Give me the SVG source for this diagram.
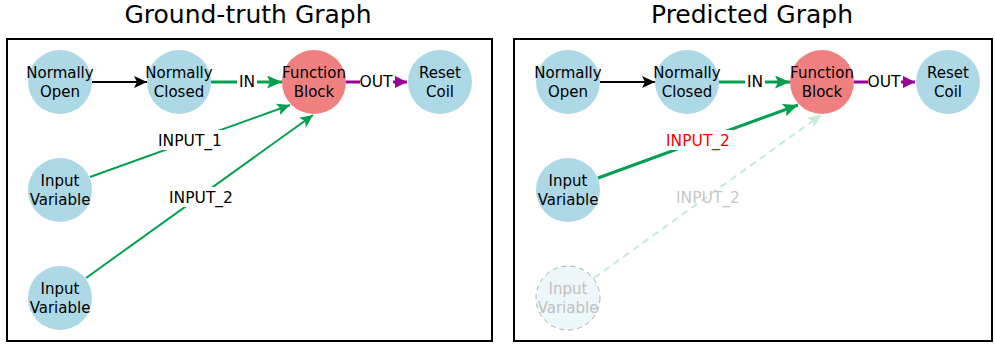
<svg xmlns="http://www.w3.org/2000/svg" width="995" height="345" viewBox="0 0 995 345">
<defs>
<style>
text{font-family:"DejaVu Sans","Liberation Sans",sans-serif;text-anchor:middle}
.title{font-size:25px;fill:#000}
.nt{font-size:15px;fill:#000}
.lbl{font-size:15.5px;fill:#000}
.node{fill:#ADD8E6}
.fb{fill:#F08080}
.panel{fill:#fff;stroke:#000;stroke-width:2}
.bg{fill:#fff}
.blk{stroke:#000;stroke-width:2;fill:none}
.grn{stroke:#00A050;stroke-width:2;fill:none}
.grn3{stroke:#00A050;stroke-width:3;fill:none}
.pur{stroke:#990099;stroke-width:3;fill:none}
.faint{stroke:#C6EBD6;stroke-width:2;fill:none;stroke-dasharray:7,5}
.ghost{fill:#EDF6F9;stroke:#B0B0B0;stroke-width:1;stroke-dasharray:5,4}
.gt{font-size:15px;fill:#C0C0C0}
</style>
<marker id="mb" markerUnits="userSpaceOnUse" markerWidth="13" markerHeight="12" refX="13" refY="6" orient="auto"><path d="M0,0 L13,6 L0,12 L3,6 z" fill="#000"/></marker>
<marker id="mg" markerUnits="userSpaceOnUse" markerWidth="13" markerHeight="12" refX="13" refY="6" orient="auto"><path d="M0,0 L13,6 L0,12 L3,6 z" fill="#00A050"/></marker>
<marker id="mg3" markerUnits="userSpaceOnUse" markerWidth="15" markerHeight="13" refX="15" refY="6.5" orient="auto"><path d="M0,0 L15,6.5 L0,13 L3,6.5 z" fill="#00A050"/></marker>
<marker id="mp" markerUnits="userSpaceOnUse" markerWidth="12" markerHeight="12" refX="12" refY="6" orient="auto"><path d="M0,0 L12,6 L0,12 z" fill="#990099"/></marker>
<marker id="mf" markerUnits="userSpaceOnUse" markerWidth="13" markerHeight="12" refX="13" refY="6" orient="auto"><path d="M0,0 L13,6 L0,12 L3,6 z" fill="#C6EBD6"/></marker>
</defs>

<text class="title" x="248" y="23">Ground-truth Graph</text>
<text class="title" x="752" y="23">Predicted Graph</text>
<rect class="panel" x="7" y="39" width="485" height="302"/>
<rect class="panel" x="514" y="39" width="478" height="302"/>

<g id="edges">
  <!-- left -->
  <line class="blk" x1="92" y1="82" x2="147" y2="82" marker-end="url(#mb)"/>
  <line class="grn3" x1="211" y1="82" x2="282" y2="82" marker-end="url(#mg3)"/>
  <line class="pur" x1="346" y1="82" x2="407" y2="82" marker-end="url(#mp)"/>
  <line class="grn" x1="90" y1="177" x2="290" y2="105" marker-end="url(#mg)"/>
  <line class="grn" x1="86" y1="278" x2="313" y2="115" marker-end="url(#mg)"/>
  <rect class="bg" x="237" y="72" width="20" height="19"/>
  <text class="lbl" x="247" y="87">IN</text>
  <rect class="bg" x="360" y="72" width="33" height="19"/>
  <text class="lbl" x="376" y="87">OUT</text>
  <rect class="bg" x="155" y="130" width="70" height="20"/>
  <text class="lbl" x="190" y="146">INPUT_1</text>
  <rect class="bg" x="166" y="187" width="70" height="20"/>
  <text class="lbl" x="201" y="203">INPUT_2</text>
  <!-- right -->
  <line class="blk" x1="600" y1="82" x2="655" y2="82" marker-end="url(#mb)"/>
  <line class="grn3" x1="719" y1="82" x2="790" y2="82" marker-end="url(#mg3)"/>
  <line class="pur" x1="854" y1="82" x2="915" y2="82" marker-end="url(#mp)"/>
  <line class="grn3" x1="598" y1="178" x2="798" y2="105" marker-end="url(#mg3)"/>
  <line class="faint" x1="594" y1="278" x2="821" y2="115" marker-end="url(#mf)"/>
  <rect class="bg" x="745" y="72" width="20" height="19"/>
  <text class="lbl" x="755" y="87">IN</text>
  <rect class="bg" x="868" y="72" width="33" height="19"/>
  <text class="lbl" x="884" y="87">OUT</text>
  <rect class="bg" x="663" y="130" width="70" height="20"/>
  <text class="lbl" x="698" y="146" style="fill:#FF0000">INPUT_2</text>
  <text class="lbl" x="708" y="203" style="fill:#C8C8C8">INPUT_2</text>
</g>

<g id="gt-normally-open"><circle class="node" cx="60" cy="82" r="32"/><text class="nt" x="60" y="78">Normally</text><text class="nt" x="60" y="97">Open</text></g>
<g id="gt-normally-closed"><circle class="node" cx="179" cy="82" r="32"/><text class="nt" x="179" y="78">Normally</text><text class="nt" x="179" y="97">Closed</text></g>
<g id="gt-function-block"><circle class="fb" cx="314" cy="82" r="32"/><text class="nt" x="314" y="78">Function</text><text class="nt" x="314" y="97">Block</text></g>
<g id="gt-reset-coil"><circle class="node" cx="440" cy="82" r="32"/><text class="nt" x="440" y="78">Reset</text><text class="nt" x="440" y="97">Coil</text></g>
<g id="gt-input-1"><circle class="node" cx="60" cy="190" r="32"/><text class="nt" x="60" y="186">Input</text><text class="nt" x="60" y="205">Variable</text></g>
<g id="gt-input-2"><circle class="node" cx="60" cy="298" r="32"/><text class="nt" x="60" y="294">Input</text><text class="nt" x="60" y="313">Variable</text></g>

<g id="pr-normally-open"><circle class="node" cx="568" cy="82" r="32"/><text class="nt" x="568" y="78">Normally</text><text class="nt" x="568" y="97">Open</text></g>
<g id="pr-normally-closed"><circle class="node" cx="687" cy="82" r="32"/><text class="nt" x="687" y="78">Normally</text><text class="nt" x="687" y="97">Closed</text></g>
<g id="pr-function-block"><circle class="fb" cx="822" cy="82" r="32"/><text class="nt" x="822" y="78">Function</text><text class="nt" x="822" y="97">Block</text></g>
<g id="pr-reset-coil"><circle class="node" cx="948" cy="82" r="32"/><text class="nt" x="948" y="78">Reset</text><text class="nt" x="948" y="97">Coil</text></g>
<g id="pr-input-1"><circle class="node" cx="568" cy="190" r="32"/><text class="nt" x="568" y="186">Input</text><text class="nt" x="568" y="205">Variable</text></g>
<g id="pr-input-2-missing"><circle class="ghost" cx="568" cy="298" r="32"/><text class="gt" x="568" y="294">Input</text><text class="gt" x="568" y="313">Variable</text></g>
</svg>
